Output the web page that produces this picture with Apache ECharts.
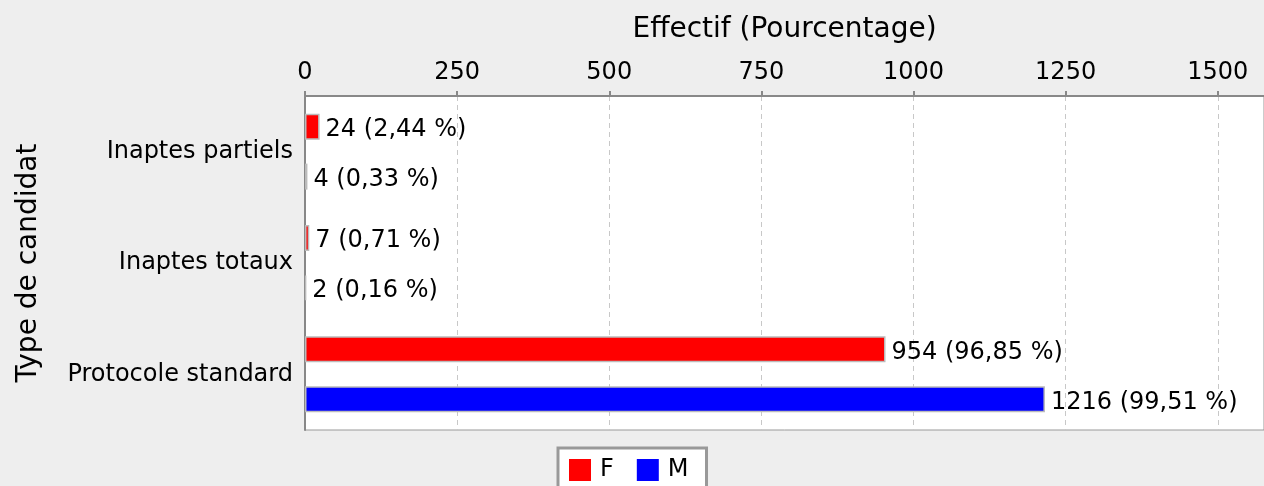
<!DOCTYPE html>
<html>
<head>
<meta charset="utf-8">
<script src="https://cdn.jsdelivr.net/npm/echarts@6/dist/echarts.min.js"></script>
<style>
  html, body { margin: 0; padding: 0; background: #eeeeee; }
  #chart { width: 1264px; height: 486px; }
</style>
</head>
<body>
<div id="chart"></div>
<script>
const categories = ["Inaptes partiels", "Inaptes totaux", "Protocole standard"];
const seriesNames = ["F", "M"];
const valuesF = [24, 7, 954];
const valuesM = [4, 2, 1216];
const xTicks = [0, 250, 500, 750, 1000, 1250, 1500];

// pourcentage de chaque valeur dans sa série
function pct(arr, v) {
  const total = arr.reduce((a, b) => a + b, 0);
  return (v / total * 100).toFixed(2).replace(".", ",");
}

function labelFor(arr) {
  return function (p) {
    return p.value + " (" + pct(arr, p.value) + " %)";
  };
}

const font = "DejaVu Sans";
const chart = echarts.init(document.getElementById("chart"), null, { renderer: "canvas" });

const option = {
  backgroundColor: "#eeeeee",
  animation: false,
  textStyle: { fontFamily: font },
  grid: {
    left: 305,
    right: 0,
    top: 96,
    bottom: 56,
    show: true,
    backgroundColor: "#ffffff",
    borderColor: "#999999",
    borderWidth: 1
  },
  legend: {
    data: seriesNames,
    left: 558,
    top: 448,
    padding: [10, 18, 8, 11],
    itemGap: 23,
    itemWidth: 22,
    itemHeight: 22,
    backgroundColor: "#ffffff",
    borderColor: "#999999",
    borderWidth: 3,
    borderRadius: 0,
    icon: "rect",
    itemStyle: { borderWidth: 0 },
    textStyle: { fontFamily: font, fontSize: 24, color: "#000", padding: [4, 0, 0, 4] }
  },
  xAxis: {
    type: "value",
    position: "top",
    min: xTicks[0],
    max: 1576,
    interval: 250,
    name: "Effectif (Pourcentage)",
    nameLocation: "middle",
    nameGap: 52,
    nameTextStyle: { fontFamily: font, fontSize: 28, color: "#000" },
    axisLine: { show: true, lineStyle: { color: "#888888", width: 2 } },
    axisTick: { show: true, length: 5, lineStyle: { color: "#888888", width: 2 } },
    axisLabel: {
      fontFamily: font, fontSize: 24, color: "#000", margin: 11,
      showMaxLabel: false,
      formatter: function (v) { return xTicks.indexOf(v) >= 0 ? String(v) : ""; }
    },
    splitLine: { show: true, lineStyle: { color: "#c8c8c8", type: [5, 4], width: 1 } }
  },
  yAxis: {
    type: "category",
    inverse: true,
    data: categories,
    name: "Type de candidat",
    nameLocation: "middle",
    nameGap: 262,
    nameTextStyle: { fontFamily: font, fontSize: 28, color: "#000" },
    axisLine: { show: true, lineStyle: { color: "#888888", width: 2 } },
    axisTick: { show: false },
    axisLabel: { fontFamily: font, fontSize: 24, color: "#000", margin: 12 }
  },
  series: [
    {
      name: seriesNames[0],
      type: "bar",
      data: valuesF,
      barWidth: 26,
      barGap: "92%",
      itemStyle: { color: "#ff0000", borderColor: "#bbbbbb", borderWidth: 1.5 },
      label: {
        show: true, position: "right", distance: 6, offset: [0, 3],
        fontFamily: font, fontSize: 24, color: "#000",
        formatter: labelFor(valuesF)
      }
    },
    {
      name: seriesNames[1],
      type: "bar",
      data: valuesM,
      barWidth: 26,
      barGap: "92%",
      itemStyle: { color: "#0000ff", borderColor: "#bbbbbb", borderWidth: 1.5 },
      label: {
        show: true, position: "right", distance: 6, offset: [0, 3],
        fontFamily: font, fontSize: 24, color: "#000",
        formatter: labelFor(valuesM)
      }
    }
  ]
};

chart.setOption(option);
window.addEventListener("resize", function () { chart.resize(); });
</script>
</body>
</html>
